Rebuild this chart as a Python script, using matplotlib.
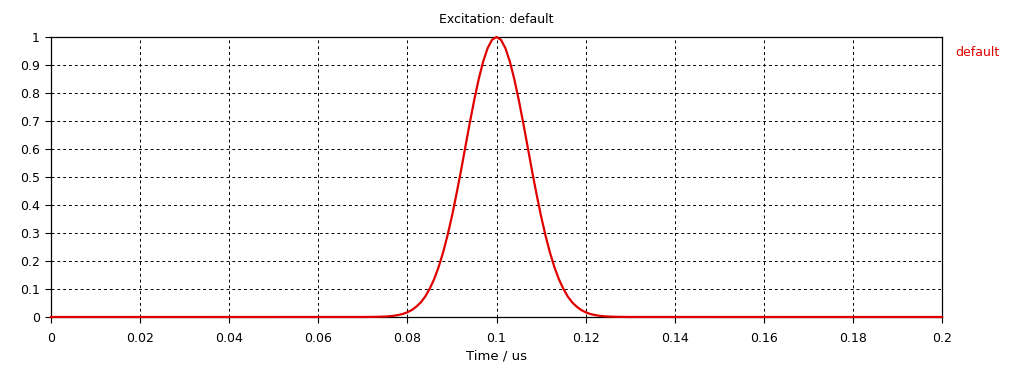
import matplotlib
matplotlib.use("Agg")
from matplotlib import pyplot as plt

# values (time in us, amplitude)
time_us = [0.0, 0.07, 0.073, 0.075,
           0.076, 0.077, 0.078, 0.079, 0.080, 0.081, 0.082, 0.083, 0.084,
           0.085, 0.086, 0.087, 0.088, 0.089, 0.090, 0.091, 0.092, 0.093,
           0.094, 0.095, 0.096, 0.097, 0.098, 0.099, 0.100, 0.101, 0.102,
           0.103, 0.104, 0.105, 0.106, 0.107, 0.108, 0.109, 0.110, 0.111,
           0.112, 0.113, 0.114, 0.115, 0.116, 0.117, 0.118, 0.119, 0.120,
           0.121, 0.122, 0.123, 0.124,
           0.125, 0.127, 0.13, 0.2]
signal = [0.0, 0.0001, 0.0006, 0.0017,
          0.0028, 0.0045, 0.0072, 0.011, 0.017, 0.025, 0.037, 0.052, 0.073,
          0.101, 0.135, 0.178, 0.230, 0.291, 0.360, 0.438, 0.520, 0.607,
          0.693, 0.775, 0.849, 0.912, 0.960, 0.990, 1.0, 0.990, 0.960,
          0.912, 0.849, 0.775, 0.693, 0.607, 0.520, 0.438, 0.360, 0.291,
          0.230, 0.178, 0.135, 0.101, 0.073, 0.052, 0.037, 0.025, 0.017,
          0.011, 0.0072, 0.0045, 0.0028,
          0.0017, 0.0006, 0.0001, 0.0]

x_ticks = [0, 0.02, 0.04, 0.06, 0.08, 0.1, 0.12, 0.14, 0.16, 0.18, 0.2]
x_labels = ["0", "0.02", "0.04", "0.06", "0.08", "0.1", "0.12", "0.14", "0.16", "0.18", "0.2"]
y_ticks = [0, 0.1, 0.2, 0.3, 0.4, 0.5, 0.6, 0.7, 0.8, 0.9, 1]
y_labels = ["0", "0.1", "0.2", "0.3", "0.4", "0.5", "0.6", "0.7", "0.8", "0.9", "1"]

red = "#e00000"

fig = plt.figure(figsize=(10.31, 3.70), dpi=100)
ax = fig.add_axes([51 / 1031, 1 - 317 / 370, 891 / 1031, 280 / 370])

ax.plot(time_us, signal, color=red, linewidth=1.6, zorder=3, clip_on=False)

ax.set_xlim(0, 0.2)
ax.set_ylim(0, 1)
ax.set_xticks(x_ticks)
ax.set_xticklabels(x_labels)
ax.set_yticks(y_ticks)
ax.set_yticklabels(y_labels)
ax.tick_params(direction="out", length=4, width=0.8, labelsize=9, colors="black")
ax.tick_params(axis="x", pad=7)
ax.tick_params(axis="y", pad=4)
ax.grid(True, color="black", linestyle=(0, (3, 3)), linewidth=0.7)
for s in ax.spines.values():
    s.set_linewidth(0.9)

ax.set_xlabel("Time / us", fontsize=9.5, labelpad=3)
ax.set_title("Excitation: default", fontsize=9, pad=10)
fig.text(955 / 1031, 1 - 52 / 370, "default", color=red, fontsize=9, va="center", ha="left")

fig.savefig("out.png", dpi=100)
